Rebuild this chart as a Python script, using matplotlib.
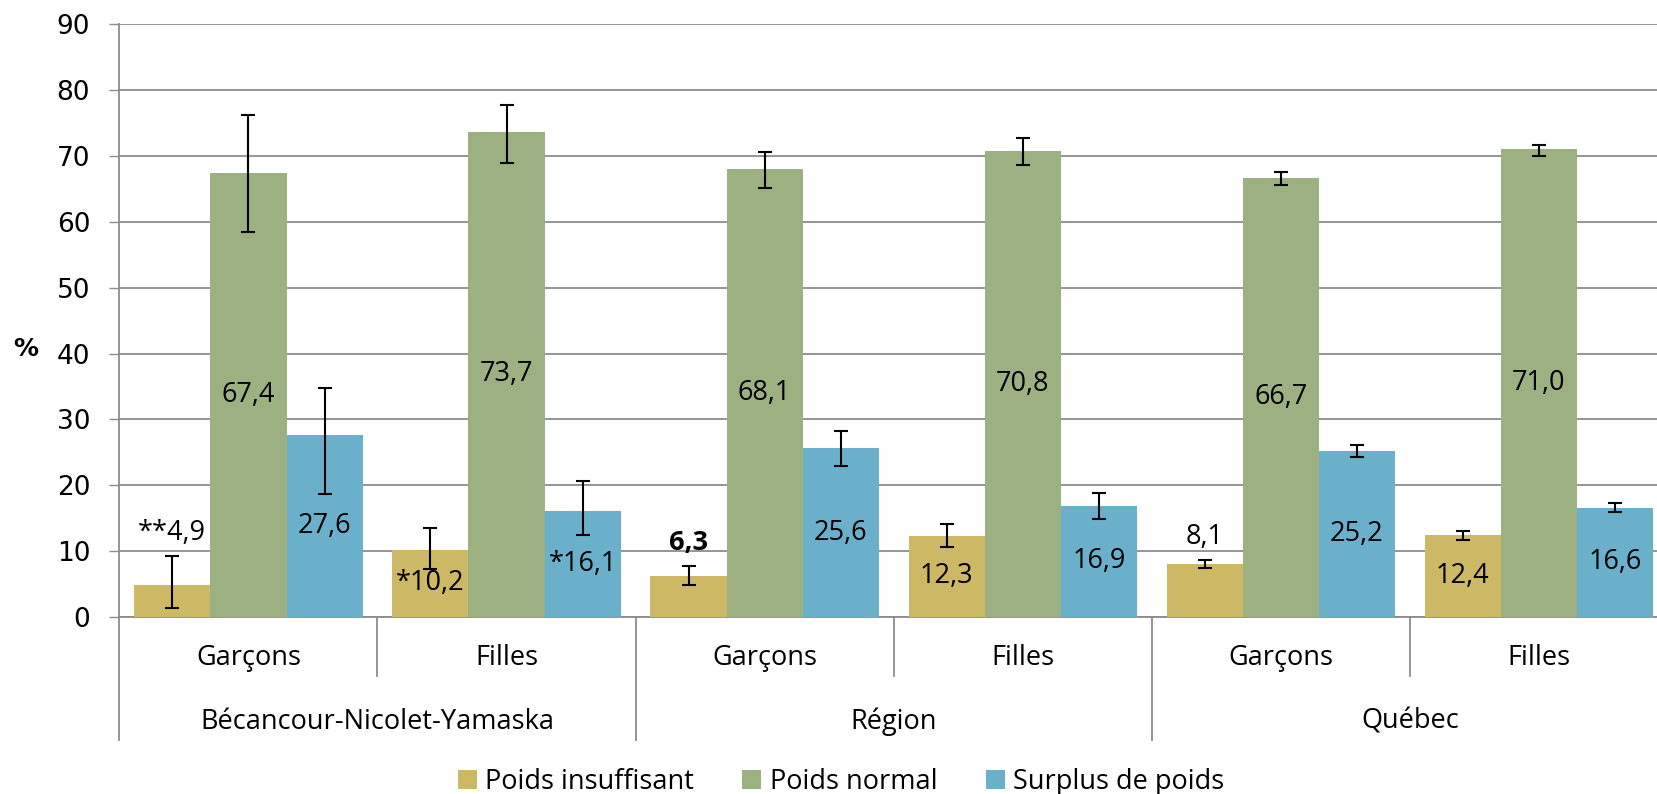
import numpy as np
import matplotlib
matplotlib.use("Agg")
import matplotlib.pyplot as plt
from matplotlib.transforms import blended_transform_factory
from matplotlib.patches import Patch

# Donnees
sexes = ["Garçons", "Filles", "Garçons", "Filles", "Garçons", "Filles"]
territoires = ["Bécancour-Nicolet-Yamaska", "Région", "Québec"]
series = ["Poids insuffisant", "Poids normal", "Surplus de poids"]

insuffisant = [4.9, 10.2, 6.3, 12.3, 8.1, 12.4]
normal = [67.4, 73.7, 68.1, 70.8, 66.7, 71.0]
surplus = [27.6, 16.1, 25.6, 16.9, 25.2, 16.6]

# intervalles de confiance (bornes inf / sup)
insuffisant_inf = [1.4, 7.3, 4.9, 10.7, 7.5, 11.7]
insuffisant_sup = [9.3, 13.5, 7.7, 14.1, 8.6, 13.0]
normal_inf = [58.4, 69.0, 65.1, 68.6, 65.6, 70.0]
normal_sup = [76.3, 77.8, 70.6, 72.8, 67.5, 71.7]
surplus_inf = [18.7, 12.5, 23.0, 14.9, 24.3, 15.9]
surplus_sup = [34.7, 20.7, 28.3, 18.9, 26.1, 17.3]

# etiquettes (avec les marques de precision)
insuffisant_lbl = ["**4,9", "*10,2", "6,3", "12,3", "8,1", "12,4"]
normal_lbl = ["67,4", "73,7", "68,1", "70,8", "66,7", "71,0"]
surplus_lbl = ["27,6", "*16,1", "25,6", "16,9", "25,2", "16,6"]

COLORS = ["#CDB865", "#9DB081", "#6BB0CA"]
GRID = "#8C8C8C"
FONT = "Open Sans"

fig = plt.figure(figsize=(16.57, 7.94), dpi=100)
ax = fig.add_axes([119.4 / 1657, 1 - 617 / 794, (1668 - 119.4) / 1657, (617 - 24.3) / 794])

x = np.arange(len(sexes))
width = 0.295
offsets = [-width, 0, width]

values = [insuffisant, normal, surplus]
lows = [insuffisant_inf, normal_inf, surplus_inf]
highs = [insuffisant_sup, normal_sup, surplus_sup]
labels = [insuffisant_lbl, normal_lbl, surplus_lbl]

for k in range(3):
    v = np.array(values[k])
    lo = np.array(lows[k])
    hi = np.array(highs[k])
    pos = x + offsets[k]
    ax.bar(pos, v, width, color=COLORS[k], zorder=3)
    ax.errorbar(pos, v, yerr=[v - lo, hi - v], fmt="none", ecolor="black",
                elinewidth=1.5, capsize=4.7, capthick=1.5, zorder=4)
    for i in range(len(sexes)):
        txt = labels[k][i]
        if k == 0 and sexes[i] == "Garçons":
            # etiquette au-dessus de la barre d'erreur
            ax.annotate(txt, (pos[i], hi[i]), xytext=(0, 16.5), textcoords="offset points",
                        ha="center", va="center", fontsize=19.5, family=FONT,
                        fontweight="bold" if txt == "6,3" else "normal", zorder=5)
        else:
            ax.text(pos[i], v[i] / 2, txt, ha="center", va="center",
                    fontsize=19.5, family=FONT, zorder=5)

ax.set_ylim(0, 90)
ax.set_xlim(-0.5, len(sexes) - 0.5)
ax.set_yticks(range(0, 91, 10))
ax.yaxis.grid(True, color=GRID, linewidth=1.3, zorder=0)
ax.tick_params(axis="y", length=7, width=1.0, color=GRID, pad=14, labelsize=19)
ax.tick_params(axis="x", length=0, labelbottom=False)
for side in ["top", "right"]:
    ax.spines[side].set_visible(False)
for side in ["left", "bottom"]:
    ax.spines[side].set_color(GRID)
    ax.spines[side].set_linewidth(1.3)

# axe des categories a deux niveaux
trans = blended_transform_factory(ax.transData, ax.transAxes)
for i, s in enumerate(sexes):
    ax.text(i, -0.069, s, transform=trans, ha="center", va="center",
            fontsize=19.5, family=FONT)
for g, t in enumerate(territoires):
    ax.text(2 * g + 0.5, -0.177, t, transform=trans, ha="center", va="center",
            fontsize=19.5, family=FONT)
for b in [0.5, 2.5, 4.5]:
    ax.plot([b, b], [0, -0.0995], transform=trans, color=GRID, lw=1.3, clip_on=False)
for b in [-0.5, 1.5, 3.5, 5.5]:
    ax.plot([b, b], [0, -0.2075], transform=trans, color=GRID, lw=1.3, clip_on=False)

fig.text(26 / 1657, 1 - 349 / 794, "%", ha="center", va="center",
         fontsize=18, fontweight="bold")

handles = [Patch(facecolor=c, edgecolor="none") for c in COLORS]
fig.legend(handles, series, loc="center", bbox_to_anchor=(841 / 1657, 1 - 782 / 794),
           ncol=3, frameon=False, prop={"family": FONT, "size": 19.5},
           handlelength=0.7, handleheight=0.7, handletextpad=0.3, columnspacing=1.8)

fig.savefig("out.png", dpi=100)
